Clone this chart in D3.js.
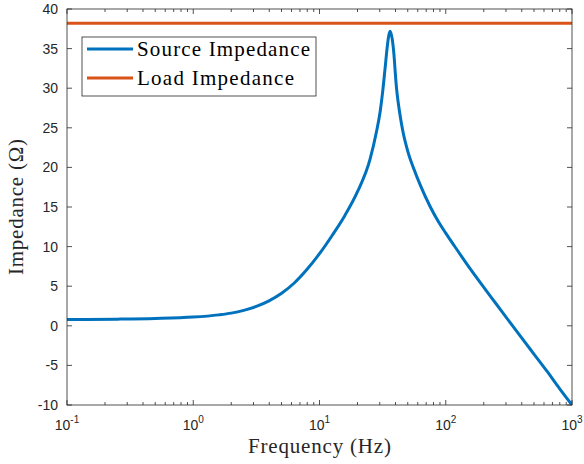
<!DOCTYPE html>
<html>
<head>
<meta charset="utf-8">
<script src="https://cdn.jsdelivr.net/npm/d3@7"></script>
<style>
  body { margin: 0; background: #fff; }
  svg { display: block; }
</style>
</head>
<body>
<svg id="chart" width="584" height="464"></svg>
<script>
// frequency (Hz) and source impedance
const freq = [0.1, 0.251, 0.501, 1, 1.585, 1.995, 2.512, 3.162, 3.981, 5.012, 6.31, 7.943,
    10, 12.59, 15.85, 19.95, 25.12, 28.18, 30.2, 31.62, 33.11, 34.28, 35.32, 36.22,
    37.58, 38.9, 39.81, 40.74, 42.17, 43.65, 45.71, 50.12, 56.23, 63.1, 75, 87.1, 100,
    125.9, 158.5, 199.5, 251.2, 316.2, 398.1, 501.2, 631, 794.3, 1000];
const sourceZ = [0.8, 0.84, 0.92, 1.1, 1.38, 1.6, 1.95, 2.45, 3.15, 4.1, 5.4, 7.1,
    9.1, 11.4, 13.9, 16.9, 21.0, 24.4, 27.0, 29.5, 32.6, 35.0, 36.6, 37.2,
    36.3, 34.2, 32.0, 30.0, 28.0, 26.4, 24.6, 22.0, 19.7, 17.7, 15.1, 13.2, 11.7,
    9.35, 7.05, 4.88, 2.75, 0.62, -1.5, -3.6, -5.7, -7.9, -10];
const loadZ = 38.2;
const seriesNames = ['Source Impedance', 'Load Impedance'];
const colors = ['#0072BD', '#D95319'];
const xTicks = [0.1, 1, 10, 100, 1000];
const yTicks = [-10, -5, 0, 5, 10, 15, 20, 25, 30, 35, 40];

const margin = { left: 67, top: 9, right: 12, bottom: 59 };
const width = 584 - margin.left - margin.right;
const height = 464 - margin.top - margin.bottom;
const axisColor = '#262626';
const serif = '"Liberation Serif", "DejaVu Serif", serif';
const sans = '"Liberation Sans", Arial, sans-serif';

const svg = d3.select('#chart');
const g = svg.append('g').attr('transform', `translate(${margin.left},${margin.top})`);

const x = d3.scaleLog().domain([0.1, 1000]).range([0, width]);
const y = d3.scaleLinear().domain([-10, 40]).range([height, 0]);

svg.append('defs').append('clipPath').attr('id', 'clip')
    .append('rect').attr('width', width).attr('height', height);

// minor log ticks
const minor = [];
[0.1, 1, 10, 100].forEach(d => { for (let k = 2; k <= 9; k++) minor.push(d * k); });

const ticks = g.append('g').attr('stroke', axisColor).attr('stroke-width', 0.8);
xTicks.forEach(d => {
    ticks.append('line').attr('x1', x(d)).attr('x2', x(d)).attr('y1', height).attr('y2', height - 5);
    ticks.append('line').attr('x1', x(d)).attr('x2', x(d)).attr('y1', 0).attr('y2', 5);
});
minor.forEach(d => {
    ticks.append('line').attr('x1', x(d)).attr('x2', x(d)).attr('y1', height).attr('y2', height - 3);
    ticks.append('line').attr('x1', x(d)).attr('x2', x(d)).attr('y1', 0).attr('y2', 3);
});
yTicks.forEach(d => {
    ticks.append('line').attr('x1', 0).attr('x2', 5).attr('y1', y(d)).attr('y2', y(d));
    ticks.append('line').attr('x1', width).attr('x2', width - 5).attr('y1', y(d)).attr('y2', y(d));
});

// lines
const plot = g.append('g').attr('clip-path', 'url(#clip)');
const line = d3.line()
    .x(d => x(d[0]))
    .y(d => y(d[1]))
    .curve(d3.curveMonotoneX);

plot.append('path')
    .datum(freq.map((f, i) => [f, sourceZ[i]]))
    .attr('d', line)
    .attr('fill', 'none')
    .attr('stroke', colors[0])
    .attr('stroke-width', 3);

plot.append('path')
    .datum([[0.1, loadZ], [1000, loadZ]])
    .attr('d', d3.line().x(d => x(d[0])).y(d => y(d[1])))
    .attr('fill', 'none')
    .attr('stroke', colors[1])
    .attr('stroke-width', 3);

// box
g.append('rect')
    .attr('width', width).attr('height', height)
    .attr('fill', 'none').attr('stroke', axisColor).attr('stroke-width', 0.8);

// tick labels
yTicks.forEach(d => {
    g.append('text')
        .attr('x', -9).attr('y', y(d)).attr('dy', '0.35em')
        .attr('text-anchor', 'end')
        .attr('font-family', sans).attr('font-size', 14)
        .attr('fill', axisColor)
        .text(d);
});
xTicks.forEach(d => {
    const t = g.append('text')
        .attr('x', x(d)).attr('y', height + 25)
        .attr('text-anchor', 'middle')
        .attr('font-family', sans).attr('font-size', 14)
        .attr('fill', axisColor);
    t.append('tspan').text('10');
    t.append('tspan').attr('dy', -7).attr('font-size', 10).text(Math.round(Math.log10(d)));
});

// axis titles
g.append('text')
    .attr('x', width / 2).attr('y', height + 48)
    .attr('text-anchor', 'middle')
    .attr('font-family', serif).attr('font-size', 21)
    .attr('textLength', 143).attr('lengthAdjust', 'spacing')
    .attr('fill', axisColor)
    .text('Frequency (Hz)');

g.append('text')
    .attr('transform', `translate(${-44},${height / 2}) rotate(-90)`)
    .attr('text-anchor', 'middle')
    .attr('font-family', serif).attr('font-size', 21)
    .attr('textLength', 136).attr('lengthAdjust', 'spacing')
    .attr('fill', axisColor)
    .text('Impedance (Ω)');

// legend
const legend = g.append('g').attr('transform', 'translate(15,28)');
legend.append('rect')
    .attr('width', 234).attr('height', 59)
    .attr('fill', '#fff').attr('stroke', axisColor).attr('stroke-width', 0.8);
seriesNames.forEach((name, i) => {
    const yy = 12 + i * 29;
    legend.append('line')
        .attr('x1', 5).attr('x2', 51).attr('y1', yy).attr('y2', yy)
        .attr('stroke', colors[i]).attr('stroke-width', 3);
    legend.append('text')
        .attr('x', 55).attr('y', yy).attr('dy', '0.33em')
        .attr('font-family', serif).attr('font-size', 21)
        .attr('textLength', i === 0 ? 173 : 157).attr('lengthAdjust', 'spacing')
        .attr('fill', '#000')
        .text(name);
});
</script>
</body>
</html>
